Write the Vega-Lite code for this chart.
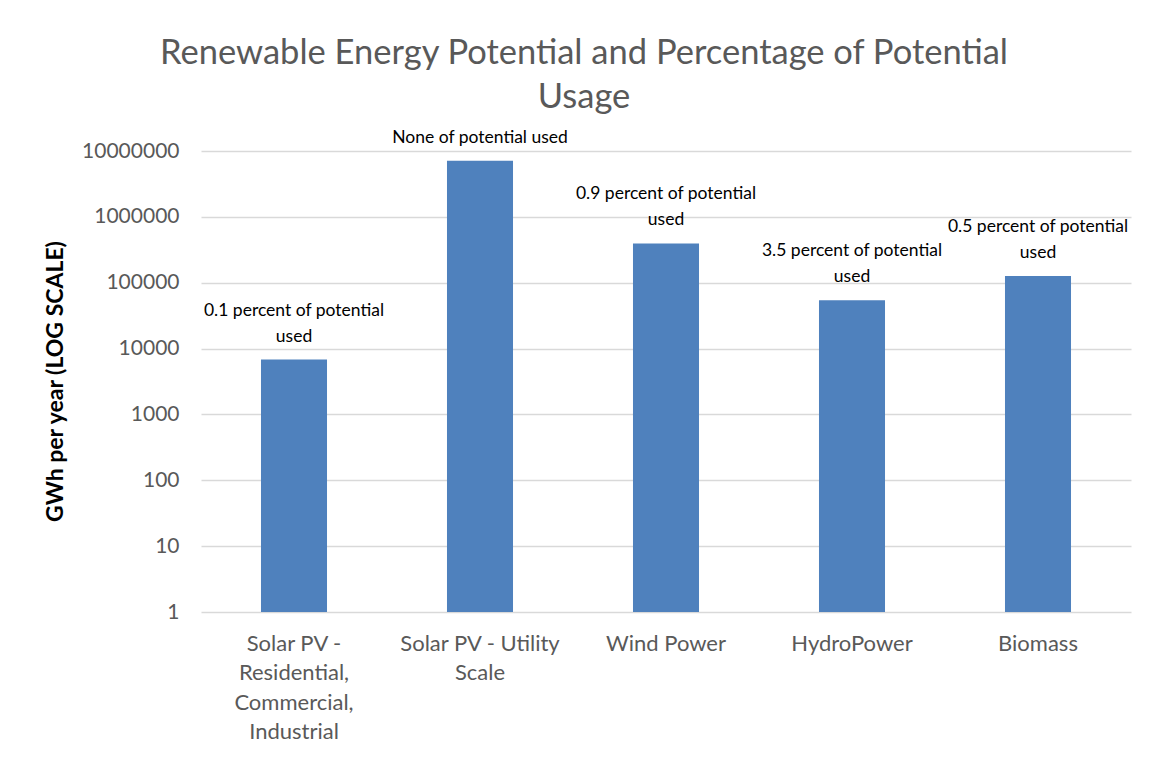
{
  "$schema": "https://vega.github.io/schema/vega-lite/v6.json",
  "autosize": "none",
  "width": 930,
  "height": 461,
  "padding": {"left": 201, "top": 151, "right": 19, "bottom": 145},
  "background": "white",
  "title": {
    "text": ["Renewable Energy Potential and Percentage of Potential", "Usage"],
    "fontSize": 34.5,
    "font": "Lato",
    "fontWeight": "normal",
    "color": "#595959",
    "lineHeight": 44,
    "anchor": "middle",
    "dx": -82,
    "dy": 21,
    "offset": 34
  },
  "data": {
    "values": [
      {"source": "Solar PV - Residential, Commercial, Industrial", "gwh": 6800, "label": "0.1 percent of potential\nused"},
      {"source": "Solar PV - Utility Scale", "gwh": 7100000, "label": "None of potential used"},
      {"source": "Wind Power", "gwh": 395000, "label": "0.9 percent of potential\nused"},
      {"source": "HydroPower", "gwh": 54000, "label": "3.5 percent of potential\nused"},
      {"source": "Biomass", "gwh": 126000, "label": "0.5 percent of potential\nused"}
    ]
  },
  "encoding": {
    "x": {
      "field": "source",
      "type": "nominal",
      "sort": null,
      "scale": {"paddingInner": 0.645, "paddingOuter": 0.3225},
      "axis": {
        "title": null,
        "domain": false,
        "ticks": false,
        "labelAngle": 0,
        "labelFont": "Lato",
        "labelFontSize": 22,
        "labelColor": "#595959",
        "labelPadding": 21,
        "labelLineHeight": 29.5,
        "labelBaseline": "top",
        "labelLimit": 300,
        "labelExpr": "datum.value == 'Solar PV - Residential, Commercial, Industrial' ? ['Solar PV -', 'Residential,', 'Commercial,', 'Industrial'] : datum.value == 'Solar PV - Utility Scale' ? ['Solar PV - Utility', 'Scale'] : datum.label"
      }
    },
    "y": {
      "field": "gwh",
      "type": "quantitative",
      "stack": null,
      "scale": {"type": "log", "domain": [1, 10000000], "nice": false},
      "axis": {
        "title": "GWh per year (LOG SCALE)",
        "titleFont": "Lato",
        "titleFontSize": 23,
        "titleFontWeight": "bold",
        "titleColor": "#000000",
        "titleX": -146,
        "titleY": 230,
        "titleAlign": "center",
        "titleBaseline": "middle",
        "values": [1, 10, 100, 1000, 10000, 100000, 1000000, 10000000],
        "format": "d",
        "domain": false,
        "ticks": false,
        "tickSize": 0,
        "labelPadding": 22,
        "labelFont": "Lato",
        "labelFontSize": 21,
        "labelColor": "#595959",
        "grid": true,
        "gridColor": "#d9d9d9",
        "gridWidth": 1.3
      }
    }
  },
  "layer": [
    {
      "mark": {"type": "bar", "color": "#4f81bd"},
      "encoding": {"y2": {"datum": 1}}
    },
    {
      "transform": [{"filter": "indexof(datum.label, 'percent') >= 0"}],
      "mark": {
        "type": "text",
        "font": "Lato",
        "fontSize": 17.5,
        "color": "#000000",
        "baseline": "bottom",
        "align": "center",
        "lineBreak": "\n",
        "lineHeight": 26,
        "dy": -40
      },
      "encoding": {"text": {"field": "label"}}
    },
    {
      "transform": [{"filter": "indexof(datum.label, 'percent') < 0"}],
      "mark": {
        "type": "text",
        "font": "Lato",
        "fontSize": 17.5,
        "color": "#000000",
        "baseline": "bottom",
        "align": "center",
        "dy": -14
      },
      "encoding": {"text": {"field": "label"}}
    }
  ],
  "config": {"view": {"stroke": null}}
}
